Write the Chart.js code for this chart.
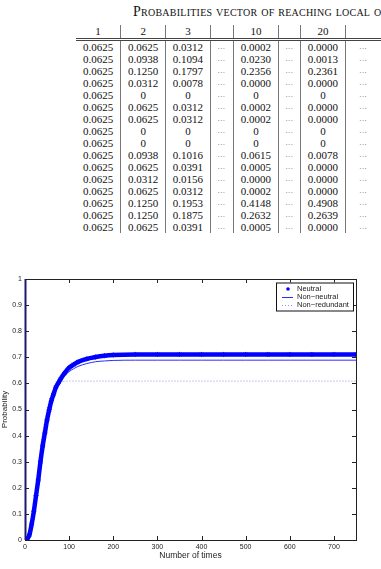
<!DOCTYPE html>
<html>
<head>
<meta charset="utf-8">
<script src="https://cdn.jsdelivr.net/npm/chart.js@4.4.1/dist/chart.umd.min.js"></script>
<style>
  html, body { margin: 0; padding: 0; background: #fff; }
  body { width: 381px; height: 569px; position: relative; overflow: hidden; }
  #title {
    position: absolute; left: 133px; top: 4px; white-space: nowrap;
    font-family: 'Liberation Serif', 'Times New Roman', serif; font-size: 14px;
    font-variant: small-caps; letter-spacing: 0.25px; color: #111;
  }
  #tbl {
    position: absolute; left: 76px; top: 25px;
    border-collapse: collapse; table-layout: fixed;
    font-family: 'Liberation Serif', 'Times New Roman', serif; font-size: 11px; color: #111;
  }
  #tbl td, #tbl th { padding: 0; text-align: center; font-weight: normal; border-left: 1px solid #777; }
  #tbl td:first-child, #tbl th:first-child { border-left: none; }
  #tbl th { height: 13px; line-height: 13px; border-bottom: 3px double #444; }
  #tbl td { height: 12px; line-height: 12px; }
  #tbl td.dots { font-size: 7px; letter-spacing: 0.8px; color: #555; }
  #chartBox { position: absolute; left: 0; top: 262px; width: 381px; height: 307px; }
</style>
</head>
<body>
<div id="title">Probabilities vector of reaching local optima</div>
<table id="tbl"></table>
<div id="chartBox"><canvas id="chart" width="381" height="307"></canvas></div>
<script>
// table values (columns 1, 2, 3, ..., 10, ..., 20, ...)
const tableHeader = ['1', '2', '3', '', '10', '', '20', ''];
const colWidths = [47, 47, 47, 25, 48, 24, 47, 40];
const col1 = ['0.0625','0.0625','0.0625','0.0625','0.0625','0.0625','0.0625','0.0625','0.0625','0.0625','0.0625','0.0625','0.0625','0.0625','0.0625','0.0625'];
const col2 = ['0.0625','0.0938','0.1250','0.0312','0','0.0625','0.0625','0','0','0.0938','0.0625','0.0312','0.0625','0.1250','0.1250','0.0625'];
const col3 = ['0.0312','0.1094','0.1797','0.0078','0','0.0312','0.0312','0','0','0.1016','0.0391','0.0156','0.0312','0.1953','0.1875','0.0391'];
const col10 = ['0.0002','0.0230','0.2356','0.0000','0','0.0002','0.0002','0','0','0.0615','0.0005','0.0000','0.0002','0.4148','0.2632','0.0005'];
const col20 = ['0.0000','0.0013','0.2361','0.0000','0','0.0000','0.0000','0','0','0.0078','0.0000','0.0000','0.0000','0.4908','0.2639','0.0000'];

// chart series
const timeSteps = [0, 5, 10, 15, 20, 25, 30, 35, 40, 45, 50, 55, 60, 65, 70, 75, 80, 90, 100, 110, 120, 140, 160, 180, 200, 250, 300, 350, 400, 450, 500, 550, 600, 650, 700, 750];
const neutral = [0, 0.004, 0.02, 0.06, 0.11, 0.17, 0.23, 0.30, 0.36, 0.41, 0.46, 0.50, 0.535, 0.56, 0.585, 0.60, 0.615, 0.64, 0.66, 0.672, 0.682, 0.694, 0.701, 0.706, 0.709, 0.711, 0.711, 0.711, 0.711, 0.711, 0.711, 0.711, 0.711, 0.711, 0.711, 0.711];
const nonNeutral = [0, 0.004, 0.02, 0.06, 0.11, 0.17, 0.23, 0.30, 0.36, 0.41, 0.455, 0.495, 0.53, 0.555, 0.58, 0.595, 0.61, 0.63, 0.645, 0.656, 0.665, 0.676, 0.683, 0.686, 0.688, 0.689, 0.689, 0.689, 0.689, 0.689, 0.689, 0.689, 0.689, 0.689, 0.689, 0.689];
const nonRedundant = [0, 0.006, 0.03, 0.08, 0.14, 0.21, 0.28, 0.35, 0.41, 0.46, 0.50, 0.535, 0.56, 0.58, 0.592, 0.60, 0.605, 0.608, 0.609, 0.609, 0.609, 0.609, 0.609, 0.609, 0.609, 0.609, 0.609, 0.609, 0.609, 0.609, 0.609, 0.609, 0.609, 0.609, 0.609, 0.609];
const xTicks = [0, 100, 200, 300, 400, 500, 600, 700];

// build the table
const tbl = document.getElementById('tbl');
let html = '<colgroup>' + colWidths.map(w => `<col style="width:${w}px">`).join('') + '</colgroup>';
html += '<tr>' + tableHeader.map(h => `<th>${h}</th>`).join('') + '</tr>';
col1.forEach((v, i) => {
  html += '<tr>' +
    `<td>${v}</td><td>${col2[i]}</td><td>${col3[i]}</td><td class="dots">...</td>` +
    `<td>${col10[i]}</td><td class="dots">...</td><td>${col20[i]}</td><td class="dots">...</td></tr>`;
});
tbl.innerHTML = html;

const toPoints = ys => ys.map((y, i) => ({ x: timeSteps[i], y }));

// inward ticks + box frame, MATLAB style
const frame = {
  id: 'frame',
  afterDatasetsDraw(chart) {
    const { ctx, chartArea: a, scales: { x, y } } = chart;
    ctx.save();
    ctx.strokeStyle = '#222';
    ctx.lineWidth = 1;
    ctx.beginPath();
    x.ticks.forEach(t => {
      const px = Math.round(x.getPixelForValue(t.value)) + 0.5;
      ctx.moveTo(px, a.bottom); ctx.lineTo(px, a.bottom - 4);
      ctx.moveTo(px, a.top); ctx.lineTo(px, a.top + 4);
    });
    y.ticks.forEach(t => {
      const py = Math.round(y.getPixelForValue(t.value)) + 0.5;
      ctx.moveTo(a.left, py); ctx.lineTo(a.left + 4, py);
      ctx.moveTo(a.right, py); ctx.lineTo(a.right - 4, py);
    });
    ctx.stroke();
    ctx.strokeRect(a.left + 0.5, a.top + 0.5, a.right - a.left, a.bottom - a.top);
    ctx.strokeStyle = '#1a1a70';
    ctx.lineWidth = 2;
    ctx.beginPath();
    ctx.moveTo(a.left + 0.5, a.top); ctx.lineTo(a.left + 0.5, a.bottom);
    ctx.stroke();

    // legend box
    const bx = a.right - 80, by = a.top + 3.5, bw = 77, bh = 28;
    ctx.fillStyle = '#fff';
    ctx.fillRect(bx, by, bw, bh);
    ctx.strokeStyle = '#111';
    ctx.lineWidth = 1;
    ctx.strokeRect(bx + 0.5, by + 0.5, bw, bh);
    ctx.font = "7.5px 'Liberation Sans', Arial, sans-serif";
    ctx.textBaseline = 'middle';
    ctx.fillStyle = '#222';
    chart.data.datasets.forEach((ds, i) => {
      const ry = by + 6.5 + i * 8;
      ctx.save();
      if (i === 0) {
        ctx.fillStyle = '#0000ff';
        ctx.beginPath(); ctx.arc(bx + 12, ry, 1.8, 0, Math.PI * 2); ctx.fill();
      } else {
        ctx.strokeStyle = ds.borderColor;
        ctx.setLineDash(ds.borderDash || []);
        ctx.beginPath(); ctx.moveTo(bx + 6, ry + 0.5); ctx.lineTo(bx + 17, ry + 0.5); ctx.stroke();
      }
      ctx.restore();
      ctx.fillText(ds.label, bx + 21, ry);
    });
    ctx.restore();
  }
};

Chart.defaults.font.family = "'Liberation Sans', Arial, sans-serif";
Chart.defaults.font.size = 7;
Chart.defaults.color = '#222';

new Chart(document.getElementById('chart'), {
  type: 'line',
  data: {
    datasets: [
      {
        label: 'Neutral',
        data: toPoints(neutral),
        borderColor: '#0000ff',
        backgroundColor: '#0000ff',
        borderWidth: 4.5,
        cubicInterpolationMode: 'monotone',
        pointStyle: 'star',
        pointRadius: 2.5,
        pointBorderWidth: 1,
        pointBorderColor: '#0000ff',
        fill: false,
      },
      {
        label: 'Non\u2212neutral',
        data: toPoints(nonNeutral),
        borderColor: '#2a2aff',
        borderWidth: 1,
        cubicInterpolationMode: 'monotone',
        pointRadius: 0,
        fill: false,
      },
      {
        label: 'Non\u2212redundant',
        data: toPoints(nonRedundant),
        borderColor: 'rgba(70,70,230,0.6)',
        borderWidth: 1,
        borderDash: [1, 2],
        cubicInterpolationMode: 'monotone',
        pointRadius: 0,
        fill: false,
      },
    ],
  },
  options: {
    responsive: false,
    animation: false,
    layout: { padding: { left: 0, right: 25, top: 17, bottom: 0 } },
    plugins: { legend: { display: false }, tooltip: { enabled: false } },
    scales: {
      x: {
        type: 'linear',
        min: 0,
        max: 750,
        afterBuildTicks: scale => { scale.ticks = xTicks.map(v => ({ value: v })); },
        afterFit: scale => { scale.height = 29; },
        grid: { display: false, drawTicks: false },
        border: { display: false },
        ticks: { padding: 3, maxRotation: 0, autoSkip: false },
        title: { display: true, text: 'Number of times', font: { size: 8.5 }, padding: { top: 0, bottom: 8 } },
      },
      y: {
        min: 0,
        max: 1,
        afterFit: scale => { scale.width = 25; },
        grid: { display: false, drawTicks: false },
        border: { display: false },
        ticks: { stepSize: 0.1, padding: 3, callback: v => String(Math.round(v * 10) / 10) },
        title: { display: true, text: 'Probability', font: { size: 8 }, padding: { top: 0, bottom: 0 } },
      },
    },
  },
  plugins: [frame],
});
</script>
</body>
</html>
